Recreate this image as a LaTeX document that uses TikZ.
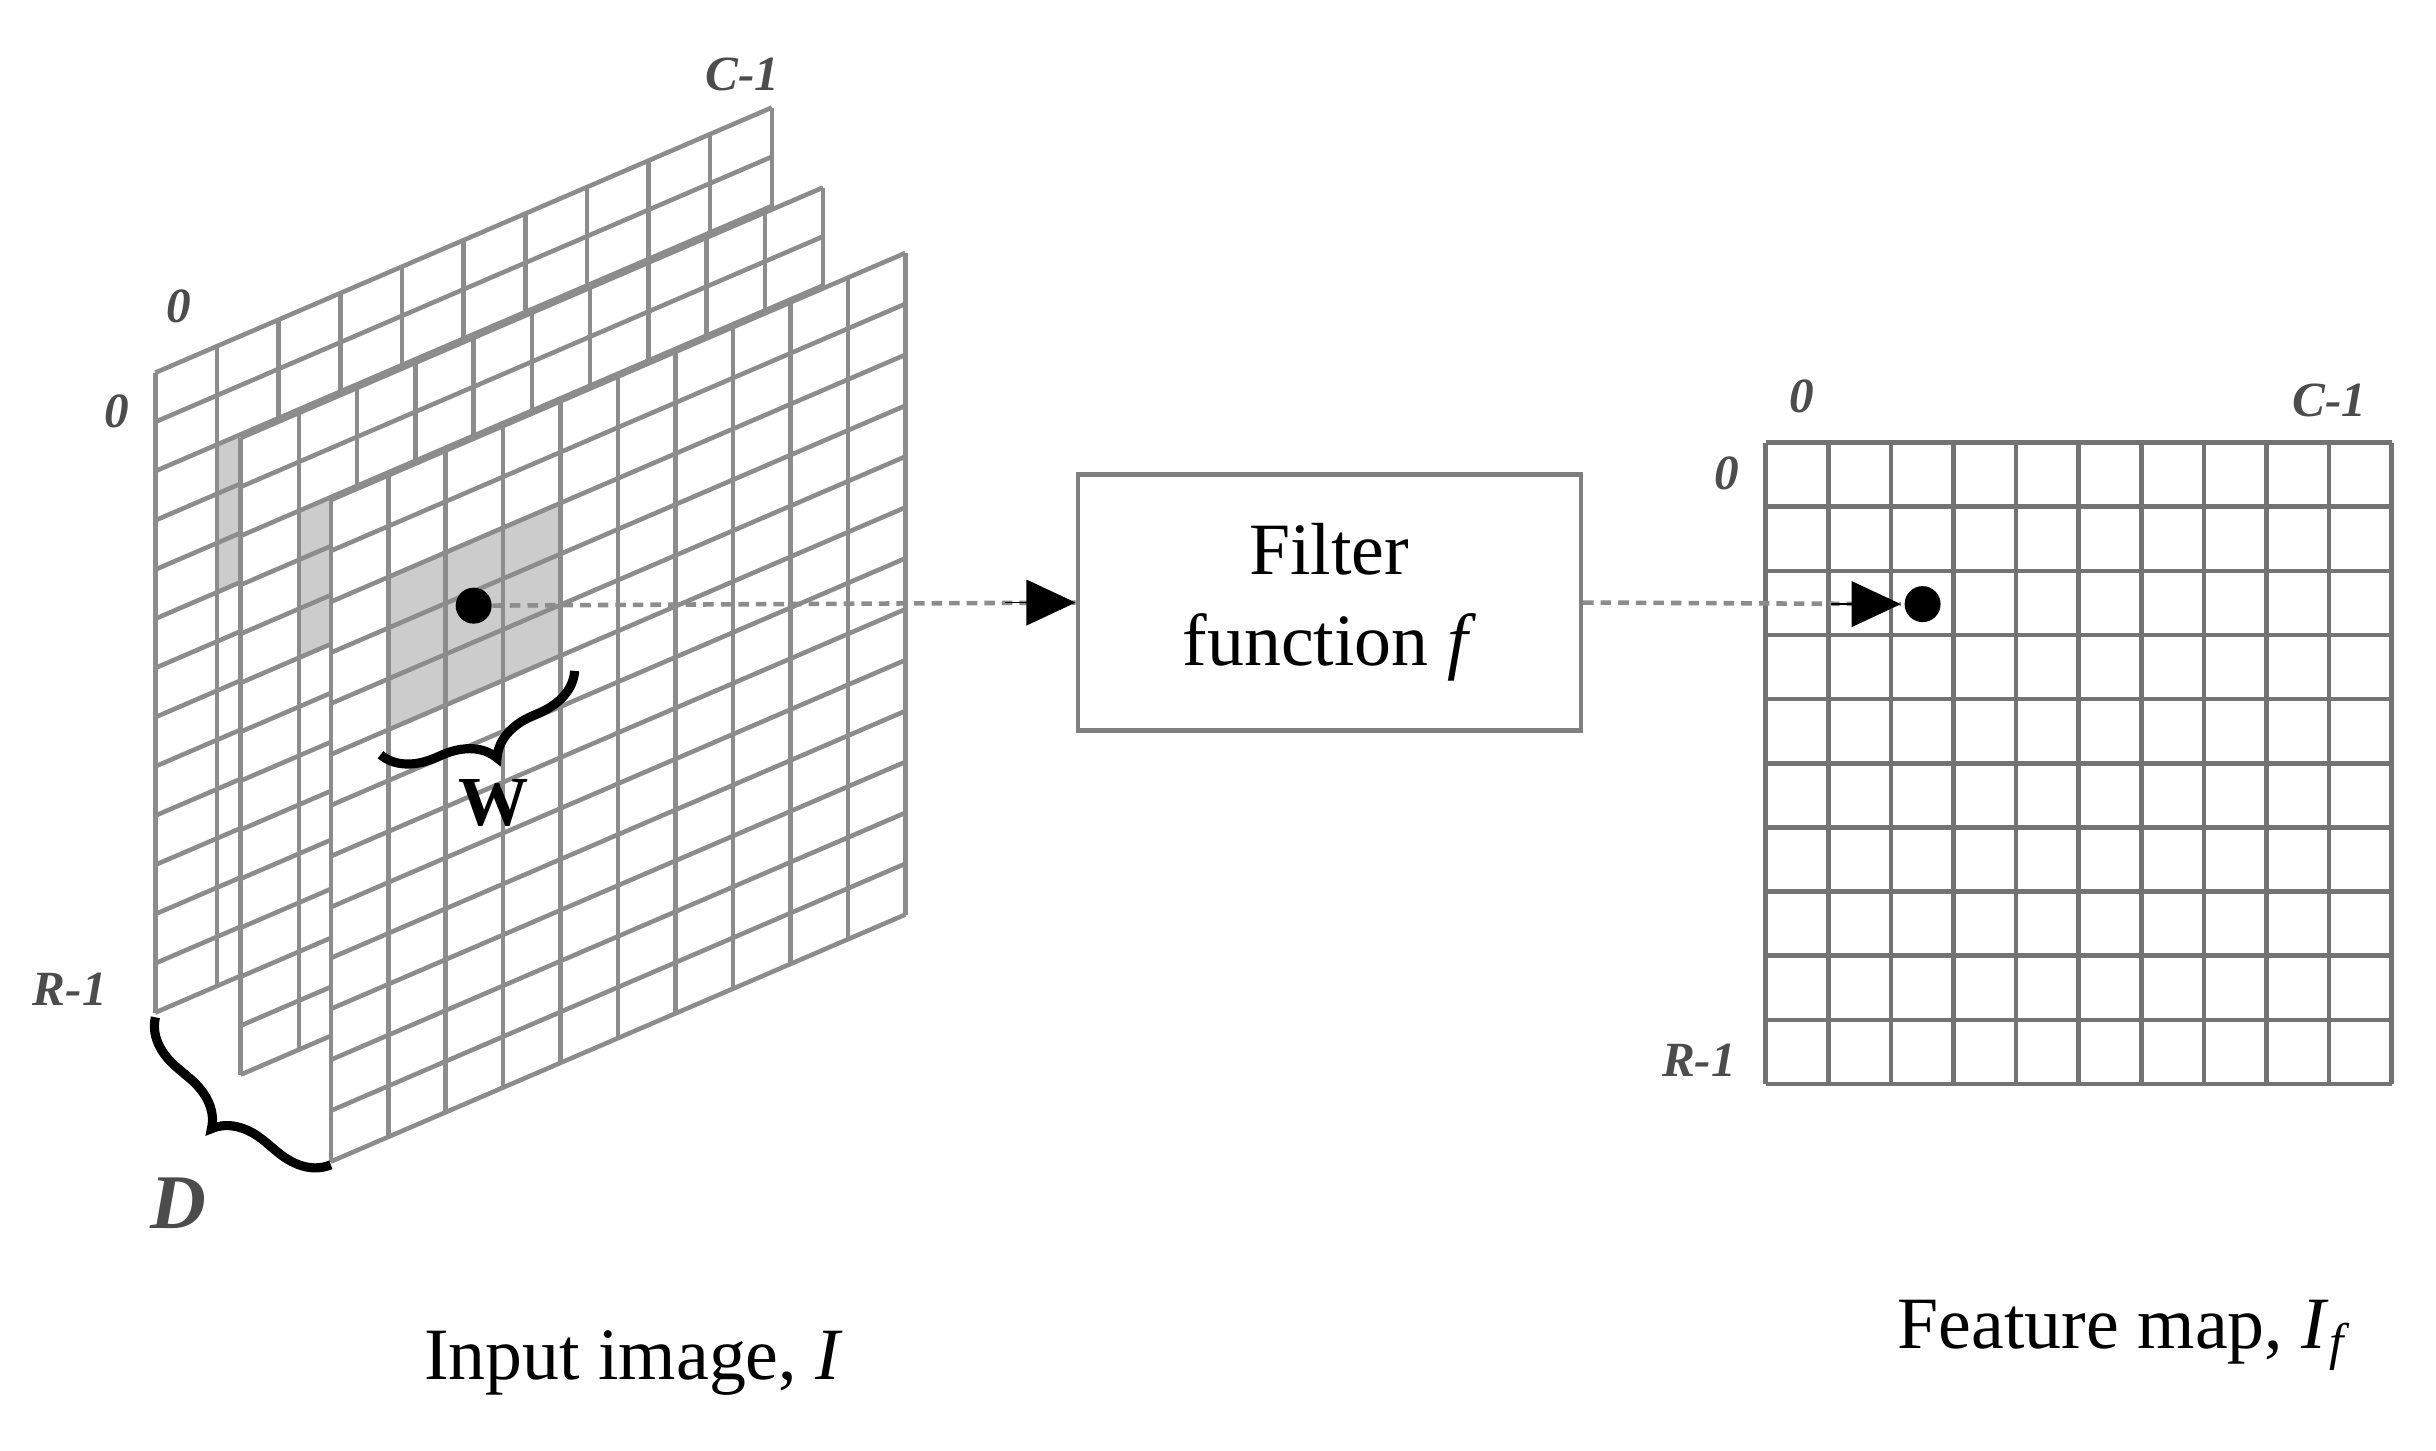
\documentclass[tikz,border=0pt]{standalone}
\usepackage{fontspec}
\setmainfont{Liberation Serif}
\usetikzlibrary{decorations.pathreplacing,arrows.meta}
\begin{document}
\begin{tikzpicture}[x=0.01553cm,y=-0.01553cm,
  gridline/.style={draw=black!45,line width=1.3pt},
  lab/.style={font=\fontsize{14}{16}\selectfont\bfseries\itshape,text=black!70},
  big/.style={font=\fontsize{21}{25}\selectfont},
  dashline/.style={densely dashed,draw=black!45,line width=1.3pt},
  tip/.style={-{Triangle[length=14pt,width=13pt]},black},
  brc/.style={decorate,decoration={brace,amplitude=14pt},line width=2.6pt}]
\useasboundingbox (0,0) rectangle (1568.6,933.7);
% plane macro: #1 x0, #2 y0, #3 width, #4 height
\newcommand\myplane[4]{%
  \pgfmathsetmacro\kk{0.43}
  \pgfmathsetmacro\cw{#3/10}
  \pgfmathsetmacro\rh{#4/13}
  \fill[white] (#1,#2) -- (#1+#3,#2-#3*\kk) -- (#1+#3,#2-#3*\kk+#4) -- (#1,#2+#4) -- cycle;
  \fill[black!20] (#1+\cw,#2-\cw*\kk+2*\rh) -- (#1+4*\cw,#2-4*\cw*\kk+2*\rh) -- (#1+4*\cw,#2-4*\cw*\kk+5*\rh) -- (#1+\cw,#2-\cw*\kk+5*\rh) -- cycle;
  \foreach \i in {0,...,10}{\draw[gridline] (#1+\i*\cw,#2-\i*\cw*\kk) -- (#1+\i*\cw,#2-\i*\cw*\kk+#4);}
  \foreach \j in {0,...,13}{\draw[gridline] (#1,#2+\j*\rh) -- (#1+#3,#2-#3*\kk+\j*\rh);}
}
\myplane{100}{240}{397}{412}
\myplane{155}{282}{375}{410}
\myplane{213}{322}{370}{426}
% labels input
\node[lab] (l0a) at (115,197) {0};
\node[lab] (l0b) at (75,265) {0};
\node[lab] (lc) at (478,48) {C-1};
\node[lab] (lr) at (45,637) {R-1};
\coordinate (d1) at (213,750);
\coordinate (d2) at (100,655);
\draw[brc] (d1) -- (d2);
\node[lab,font=\fontsize{22}{24}\selectfont\bfseries\itshape] (dl) at (115,775) {D};
\coordinate (w1) at (370,432);
\coordinate (w2) at (245,486);
\draw[brc] (w1) -- (w2);
\node[font=\fontsize{20}{22}\selectfont\bfseries] (wl) at (318,517) {W};
% filter
\node[draw=black!50,line width=1.3pt,minimum width=5.03cm,minimum height=2.56cm,align=center,font=\fontsize{21}{26}\selectfont] (f) at (856,388) {Filter\\function \textit{f}};
\node[circle,fill=black,inner sep=0pt,minimum size=0.36cm] (dot1) at (305,390) {};
\draw[dashline] (dot1) -- (f.west);
\draw[tip] ([xshift=-20]f.west) -- (f.west);
% feature map
\foreach \i in {0,...,10}{\draw[gridline,draw=black!55] (1137+\i*40.3,285) -- (1137+\i*40.3,698);}
\foreach \j in {0,...,10}{\draw[gridline,draw=black!55] (1137,285+\j*41.3) -- (1540,285+\j*41.3);}
\node[circle,fill=black,inner sep=0pt,minimum size=0.36cm] (dot2) at (1238,389) {};
\coordinate (a2) at (1224,389);
\draw[dashline] (f.east) -- (a2);
\draw[tip] ([xshift=-20]a2) -- (a2);
\node[lab] (m0a) at (1160,255) {0};
\node[lab] (mc) at (1500,258) {C-1};
\node[lab] (m0b) at (1112,305) {0};
\node[lab] (mr) at (1094,683) {R-1};
\node[big] (t1) at (408,878) {Input image, \textit{I}};
\node[big] (t2) at (1368,860) {Feature map, \textit{I}\textsubscript{\textit{f}}};
\end{tikzpicture}
\end{document}
